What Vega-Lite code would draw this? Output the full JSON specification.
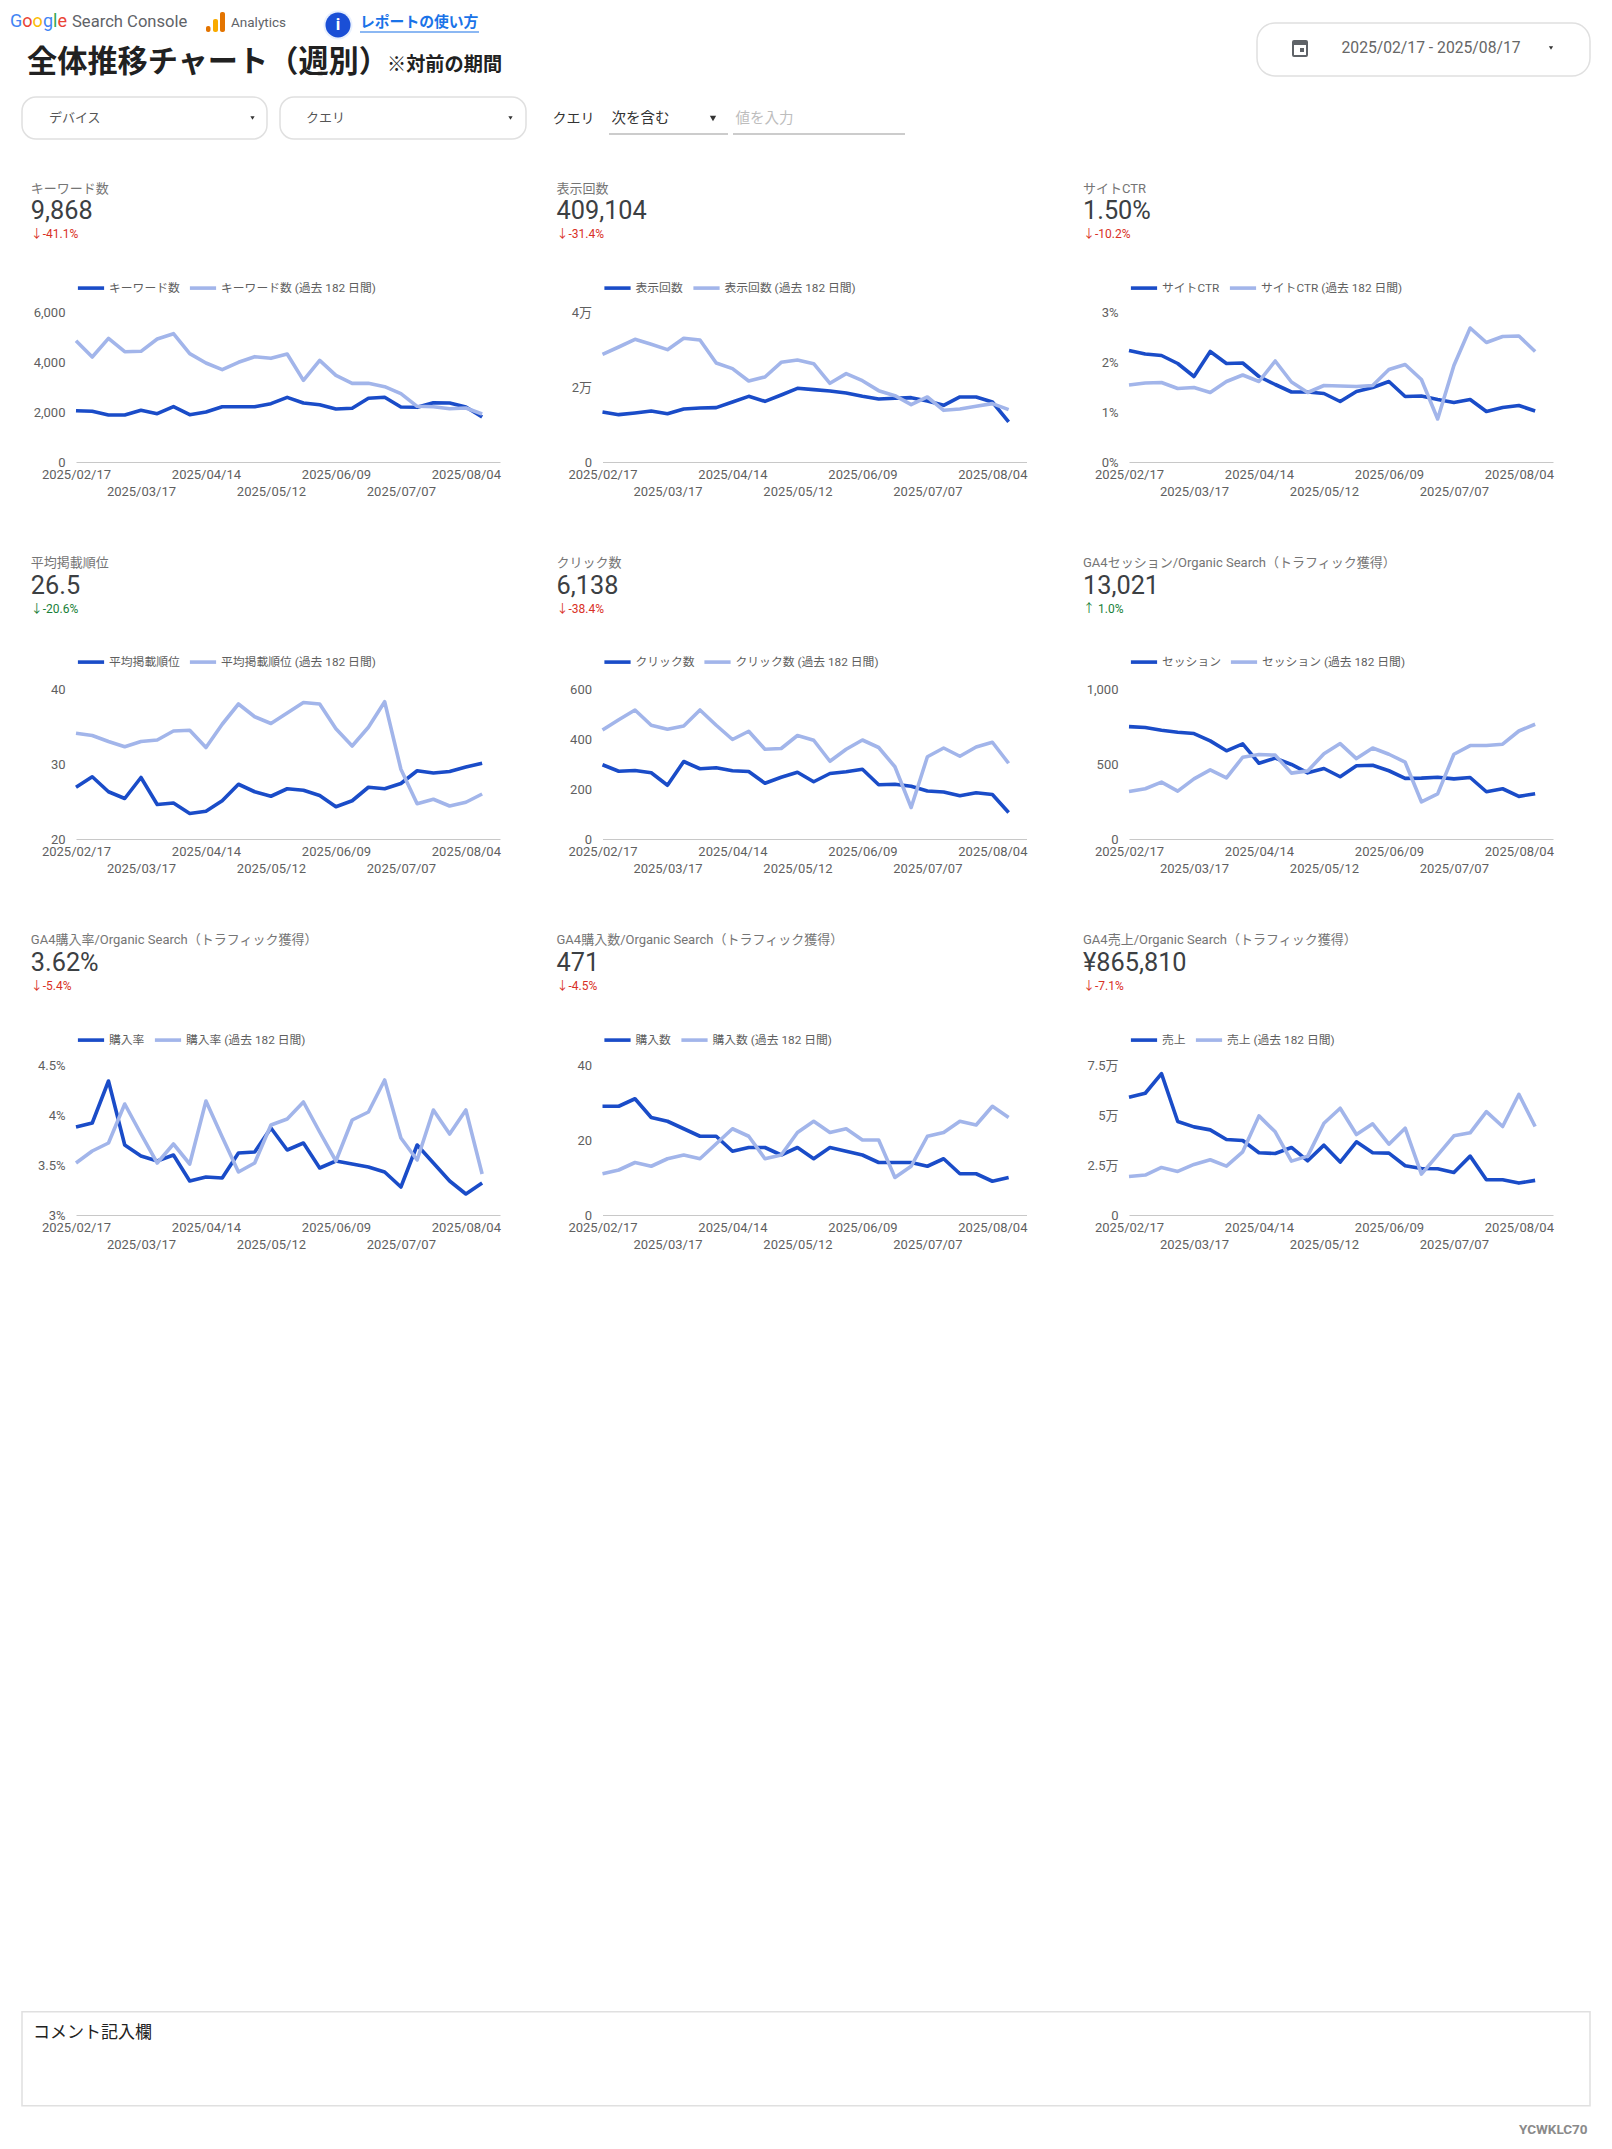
{
"$schema":"https://vega.github.io/schema/vega-lite/v6.json",
"background":"white",
"padding":{"left":10,"top":0,"right":0,"bottom":0},
"columns":3,
"align":"none",
"bounds":"flush",
"spacing":{"row":0,"column":102.5},
"resolve":{"scale":{"color":"independent","size":"independent"}},
"config":{
"view":{"stroke":null},
"font":"Roboto, 'Noto Sans CJK JP'",
"axis":{"labelFont":"Roboto, 'Noto Sans CJK JP'","labelFontSize":13,"labelColor":"#5f5f5f","ticks":false,"grid":false},
"axisX":{"domainColor":"#c8c8c8","domainWidth":1,"labelPadding":6,"labelAngle":0,"labelOverlap":false,"labelBound":false,"labelFlush":false,"labelLineHeight":17.3},
"axisY":{"domain":false,"labelPadding":11},
"legend":{"orient":"top","direction":"horizontal","symbolType":"stroke","symbolStrokeWidth":4,"symbolSize":687,"labelFont":"Roboto, 'Noto Sans CJK JP'","labelFontSize":11.8,"labelColor":"#5f5f5f","labelOffset":3,"columnPadding":8,"padding":0},
"line":{"strokeWidth":3.6,"strokeJoin":"round"},
"text":{"align":"left","baseline":"middle"}
},
"datasets":{"weekly":[
{"week":"2025/02/17","kw":2053,"kw_prev":4853,"imp":13335,"imp_prev":28715,"ctr":2.23,"ctr_prev":1.54,"pos":26.9,"pos_prev":34.1,"clk":297,"clk_prev":436,"ses":749,"ses_prev":317,"cvr":3.88,"cvr_prev":3.52,"buy":29,"buy_prev":11,"rev":58870,"rev_prev":19290},
{"week":"2025/02/24","kw":2027,"kw_prev":4200,"imp":12624,"imp_prev":30670,"ctr":2.16,"ctr_prev":1.58,"pos":28.3,"pos_prev":33.8,"clk":271,"clk_prev":477,"ses":743,"ses_prev":335,"cvr":3.92,"cvr_prev":3.64,"buy":29,"buy_prev":12,"rev":60870,"rev_prev":19960},
{"week":"2025/03/03","kw":1880,"kw_prev":4947,"imp":13068,"imp_prev":32715,"ctr":2.13,"ctr_prev":1.59,"pos":26.3,"pos_prev":33.0,"clk":274,"clk_prev":516,"ses":725,"ses_prev":379,"cvr":4.34,"cvr_prev":3.72,"buy":31,"buy_prev":14,"rev":70680,"rev_prev":23780},
{"week":"2025/03/10","kw":1880,"kw_prev":4413,"imp":13600,"imp_prev":31380,"ctr":1.97,"ctr_prev":1.47,"pos":25.4,"pos_prev":32.3,"clk":265,"clk_prev":455,"ses":712,"ses_prev":319,"cvr":3.70,"cvr_prev":4.11,"buy":26,"buy_prev":13,"rev":46730,"rev_prev":21790},
{"week":"2025/03/17","kw":2067,"kw_prev":4427,"imp":12890,"imp_prev":29960,"ctr":1.71,"ctr_prev":1.49,"pos":28.2,"pos_prev":33.0,"clk":215,"clk_prev":439,"ses":703,"ses_prev":401,"cvr":3.59,"cvr_prev":3.81,"buy":25,"buy_prev":15,"rev":44070,"rev_prev":25280},
{"week":"2025/03/24","kw":1933,"kw_prev":4920,"imp":14135,"imp_prev":32980,"ctr":2.21,"ctr_prev":1.39,"pos":24.6,"pos_prev":33.2,"clk":310,"clk_prev":452,"ses":654,"ses_prev":461,"cvr":3.54,"cvr_prev":3.52,"buy":23,"buy_prev":16,"rev":42570,"rev_prev":27610},
{"week":"2025/03/31","kw":2213,"kw_prev":5133,"imp":14400,"imp_prev":32540,"ctr":1.97,"ctr_prev":1.61,"pos":24.8,"pos_prev":34.4,"clk":281,"clk_prev":516,"ses":588,"ses_prev":408,"cvr":3.60,"cvr_prev":3.71,"buy":21,"buy_prev":15,"rev":37750,"rev_prev":24450},
{"week":"2025/04/07","kw":1893,"kw_prev":4333,"imp":14490,"imp_prev":26400,"ctr":1.98,"ctr_prev":1.74,"pos":23.4,"pos_prev":34.5,"clk":285,"clk_prev":455,"ses":634,"ses_prev":545,"cvr":3.34,"cvr_prev":3.51,"buy":21,"buy_prev":19,"rev":37250,"rev_prev":31600},
{"week":"2025/04/14","kw":2000,"kw_prev":3960,"imp":16000,"imp_prev":24890,"ctr":1.71,"ctr_prev":1.61,"pos":23.7,"pos_prev":32.2,"clk":273,"clk_prev":398,"ses":505,"ses_prev":563,"cvr":3.38,"cvr_prev":4.14,"buy":17,"buy_prev":23,"rev":31100,"rev_prev":49560},
{"week":"2025/04/21","kw":2213,"kw_prev":3693,"imp":17510,"imp_prev":21600,"ctr":1.55,"ctr_prev":2.02,"pos":25.1,"pos_prev":35.3,"clk":270,"clk_prev":431,"ses":539,"ses_prev":559,"cvr":3.37,"cvr_prev":3.78,"buy":18,"buy_prev":21,"rev":30770,"rev_prev":41580},
{"week":"2025/04/28","kw":2213,"kw_prev":3987,"imp":16180,"imp_prev":22670,"ctr":1.40,"ctr_prev":1.60,"pos":27.3,"pos_prev":38.0,"clk":223,"clk_prev":359,"ses":497,"ses_prev":439,"cvr":3.62,"cvr_prev":3.43,"buy":18,"buy_prev":15,"rev":33760,"rev_prev":26940},
{"week":"2025/05/05","kw":2213,"kw_prev":4213,"imp":17870,"imp_prev":26580,"ctr":1.40,"ctr_prev":1.39,"pos":26.3,"pos_prev":36.3,"clk":247,"clk_prev":362,"ses":441,"ses_prev":454,"cvr":3.63,"cvr_prev":3.52,"buy":16,"buy_prev":16,"rev":27110,"rev_prev":29440},
{"week":"2025/05/12","kw":2333,"kw_prev":4147,"imp":19650,"imp_prev":27200,"ctr":1.37,"ctr_prev":1.53,"pos":25.7,"pos_prev":35.4,"clk":267,"clk_prev":414,"ses":470,"ses_prev":568,"cvr":3.87,"cvr_prev":3.90,"buy":18,"buy_prev":22,"rev":34920,"rev_prev":45900},
{"week":"2025/05/19","kw":2587,"kw_prev":4320,"imp":19290,"imp_prev":26225,"ctr":1.21,"ctr_prev":1.52,"pos":26.7,"pos_prev":36.8,"clk":229,"clk_prev":395,"ses":415,"ses_prev":636,"cvr":3.65,"cvr_prev":3.96,"buy":15,"buy_prev":25,"rev":26440,"rev_prev":53380},
{"week":"2025/05/26","kw":2360,"kw_prev":3267,"imp":18940,"imp_prev":20980,"ctr":1.41,"ctr_prev":1.51,"pos":26.5,"pos_prev":38.2,"clk":262,"clk_prev":311,"ses":488,"ses_prev":536,"cvr":3.72,"cvr_prev":4.13,"buy":18,"buy_prev":22,"rev":36590,"rev_prev":40250},
{"week":"2025/06/02","kw":2293,"kw_prev":4067,"imp":18400,"imp_prev":23560,"ctr":1.49,"ctr_prev":1.53,"pos":25.8,"pos_prev":38.0,"clk":269,"clk_prev":359,"ses":492,"ses_prev":607,"cvr":3.47,"cvr_prev":3.83,"buy":17,"buy_prev":23,"rev":31100,"rev_prev":45570},
{"week":"2025/06/09","kw":2120,"kw_prev":3467,"imp":17510,"imp_prev":21690,"ctr":1.61,"ctr_prev":1.85,"pos":24.3,"pos_prev":34.7,"clk":279,"clk_prev":396,"ses":455,"ses_prev":565,"cvr":3.54,"cvr_prev":3.54,"buy":16,"buy_prev":20,"rev":30930,"rev_prev":35420},
{"week":"2025/06/16","kw":2147,"kw_prev":3147,"imp":16800,"imp_prev":19025,"ctr":1.31,"ctr_prev":1.95,"pos":25.1,"pos_prev":32.4,"clk":217,"clk_prev":366,"ses":404,"ses_prev":512,"cvr":3.51,"cvr_prev":3.95,"buy":14,"buy_prev":20,"rev":24610,"rev_prev":43400},
{"week":"2025/06/23","kw":2547,"kw_prev":3147,"imp":16980,"imp_prev":17690,"ctr":1.32,"ctr_prev":1.65,"pos":26.9,"pos_prev":34.9,"clk":219,"clk_prev":289,"ses":406,"ses_prev":248,"cvr":3.48,"cvr_prev":4.03,"buy":14,"buy_prev":10,"rev":23280,"rev_prev":20450},
{"week":"2025/06/30","kw":2587,"kw_prev":3013,"imp":17160,"imp_prev":15290,"ctr":1.25,"ctr_prev":0.86,"pos":26.7,"pos_prev":38.3,"clk":211,"clk_prev":126,"ses":412,"ses_prev":301,"cvr":3.43,"cvr_prev":4.35,"buy":14,"buy_prev":13,"rev":23120,"rev_prev":29930},
{"week":"2025/07/07","kw":2200,"kw_prev":2733,"imp":16270,"imp_prev":17335,"ctr":1.19,"ctr_prev":1.93,"pos":27.4,"pos_prev":29.3,"clk":192,"clk_prev":329,"ses":401,"ses_prev":565,"cvr":3.28,"cvr_prev":3.77,"buy":13,"buy_prev":21,"rev":21290,"rev_prev":39580},
{"week":"2025/07/14","kw":2187,"kw_prev":2227,"imp":15110,"imp_prev":13780,"ctr":1.25,"ctr_prev":2.68,"pos":29.1,"pos_prev":24.7,"clk":188,"clk_prev":364,"ses":410,"ses_prev":623,"cvr":3.70,"cvr_prev":3.55,"buy":15,"buy_prev":22,"rev":29440,"rev_prev":41080},
{"week":"2025/07/21","kw":2373,"kw_prev":2213,"imp":17340,"imp_prev":14135,"ctr":1.01,"ctr_prev":2.39,"pos":28.8,"pos_prev":25.3,"clk":173,"clk_prev":331,"ses":315,"ses_prev":623,"cvr":3.52,"cvr_prev":4.05,"buy":11,"buy_prev":25,"rev":17630,"rev_prev":51720},
{"week":"2025/07/28","kw":2360,"kw_prev":2133,"imp":17340,"imp_prev":14850,"ctr":1.09,"ctr_prev":2.51,"pos":29.0,"pos_prev":24.4,"clk":185,"clk_prev":368,"ses":335,"ses_prev":632,"cvr":3.34,"cvr_prev":3.81,"buy":11,"buy_prev":24,"rev":17630,"rev_prev":44240},
{"week":"2025/08/04","kw":2200,"kw_prev":2160,"imp":16000,"imp_prev":15560,"ctr":1.13,"ctr_prev":2.52,"pos":29.6,"pos_prev":24.9,"clk":178,"clk_prev":387,"ses":284,"ses_prev":720,"cvr":3.21,"cvr_prev":4.05,"buy":9,"buy_prev":29,"rev":15960,"rev_prev":60370},
{"week":"2025/08/11","kw":1800,"kw_prev":1920,"imp":10670,"imp_prev":13960,"ctr":1.02,"ctr_prev":2.21,"pos":30.1,"pos_prev":26.0,"clk":106,"clk_prev":303,"ses":302,"ses_prev":765,"cvr":3.32,"cvr_prev":3.41,"buy":10,"buy_prev":26,"rev":17300,"rev_prev":44240}
]},
"concat":[
{"width":424,"height":170,"layer":[
{"data":{"values":[{"t":"G"}]},"mark":{"type":"text","font":"Roboto","fontSize":18,"color":"#4285f4"},"encoding":{"x":{"datum":10,"scale":{"domain":[76,500]},"axis":null},"y":{"datum":21.7,"scale":{"domain":[0,170],"reverse":true},"axis":null},"text":{"field":"t"}}},
{"data":{"values":[{"t":"o"}]},"mark":{"type":"text","font":"Roboto","fontSize":18,"color":"#ea4335"},"encoding":{"x":{"datum":22.3,"scale":{"domain":[76,500]},"axis":null},"y":{"datum":21.7,"scale":{"domain":[0,170],"reverse":true},"axis":null},"text":{"field":"t"}}},
{"data":{"values":[{"t":"o"}]},"mark":{"type":"text","font":"Roboto","fontSize":18,"color":"#fbbc05"},"encoding":{"x":{"datum":32.6,"scale":{"domain":[76,500]},"axis":null},"y":{"datum":21.7,"scale":{"domain":[0,170],"reverse":true},"axis":null},"text":{"field":"t"}}},
{"data":{"values":[{"t":"g"}]},"mark":{"type":"text","font":"Roboto","fontSize":18,"color":"#4285f4"},"encoding":{"x":{"datum":42.9,"scale":{"domain":[76,500]},"axis":null},"y":{"datum":21.7,"scale":{"domain":[0,170],"reverse":true},"axis":null},"text":{"field":"t"}}},
{"data":{"values":[{"t":"l"}]},"mark":{"type":"text","font":"Roboto","fontSize":18,"color":"#34a853"},"encoding":{"x":{"datum":53.1,"scale":{"domain":[76,500]},"axis":null},"y":{"datum":21.7,"scale":{"domain":[0,170],"reverse":true},"axis":null},"text":{"field":"t"}}},
{"data":{"values":[{"t":"e"}]},"mark":{"type":"text","font":"Roboto","fontSize":18,"color":"#ea4335"},"encoding":{"x":{"datum":57.5,"scale":{"domain":[76,500]},"axis":null},"y":{"datum":21.7,"scale":{"domain":[0,170],"reverse":true},"axis":null},"text":{"field":"t"}}},
{"data":{"values":[{"t":"Search Console"}]},"mark":{"type":"text","font":"Roboto","fontSize":16.6,"color":"#5f6368"},"encoding":{"x":{"datum":72,"scale":{"domain":[76,500]},"axis":null},"y":{"datum":21.7,"scale":{"domain":[0,170],"reverse":true},"axis":null},"text":{"field":"t"}}},
{"data":{"values":[{"part":"low"}]},"mark":{"type":"rect","fill":"#e37400","cornerRadius":2},"encoding":{"x":{"datum":206,"scale":{"domain":[76,500]},"axis":null},"x2":{"datum":210.5},"y":{"datum":26,"scale":{"domain":[0,170],"reverse":true},"axis":null},"y2":{"datum":32}}},
{"data":{"values":[{"part":"mid"}]},"mark":{"type":"rect","fill":"#f9ab00","cornerRadius":2},"encoding":{"x":{"datum":213,"scale":{"domain":[76,500]},"axis":null},"x2":{"datum":218},"y":{"datum":19,"scale":{"domain":[0,170],"reverse":true},"axis":null},"y2":{"datum":32}}},
{"data":{"values":[{"part":"high"}]},"mark":{"type":"rect","fill":"#e37400","cornerRadius":2},"encoding":{"x":{"datum":220,"scale":{"domain":[76,500]},"axis":null},"x2":{"datum":225},"y":{"datum":12,"scale":{"domain":[0,170],"reverse":true},"axis":null},"y2":{"datum":32}}},
{"data":{"values":[{"t":"Analytics"}]},"mark":{"type":"text","font":"Roboto","fontSize":13.5,"color":"#5f6368"},"encoding":{"x":{"datum":231,"scale":{"domain":[76,500]},"axis":null},"y":{"datum":22.7,"scale":{"domain":[0,170],"reverse":true},"axis":null},"text":{"field":"t"}}},
{"data":{"values":[{"part":"ring"}]},"mark":{"type":"point","shape":"circle","filled":true,"fill":"#e8f0fe","size":841,"opacity":1},"encoding":{"x":{"datum":338,"scale":{"domain":[76,500]},"axis":null},"y":{"datum":25,"scale":{"domain":[0,170],"reverse":true},"axis":null}}},
{"data":{"values":[{"part":"disc"}]},"mark":{"type":"point","shape":"circle","filled":true,"fill":"#1a4fd6","size":625,"opacity":1},"encoding":{"x":{"datum":338,"scale":{"domain":[76,500]},"axis":null},"y":{"datum":25,"scale":{"domain":[0,170],"reverse":true},"axis":null}}},
{"data":{"values":[{"t":"i"}]},"mark":{"type":"text","align":"center","font":"Roboto","fontSize":17,"fontWeight":"bold","color":"white"},"encoding":{"x":{"datum":338,"scale":{"domain":[76,500]},"axis":null},"y":{"datum":25,"scale":{"domain":[0,170],"reverse":true},"axis":null},"text":{"field":"t"}}},
{"data":{"values":[{"t":"レポートの使い方"}]},"mark":{"type":"text","font":"Noto Sans CJK JP","fontSize":14.8,"fontWeight":"bold","color":"#1a73e8"},"encoding":{"x":{"datum":360,"scale":{"domain":[76,500]},"axis":null},"y":{"datum":23,"scale":{"domain":[0,170],"reverse":true},"axis":null},"text":{"field":"t"}}},
{"data":{"values":[{"part":"underline"}]},"mark":{"type":"rule","stroke":"#1a73e8","strokeWidth":1.2},"encoding":{"x":{"datum":360,"scale":{"domain":[76,500]},"axis":null},"x2":{"datum":479},"y":{"datum":32,"scale":{"domain":[0,170],"reverse":true},"axis":null}}},
{"data":{"values":[{"t":"全体推移チャート（週別）"}]},"mark":{"type":"text","font":"Noto Sans CJK JP","fontSize":30.2,"fontWeight":"bold","color":"#212121"},"encoding":{"x":{"datum":27,"scale":{"domain":[76,500]},"axis":null},"y":{"datum":63,"scale":{"domain":[0,170],"reverse":true},"axis":null},"text":{"field":"t"}}},
{"data":{"values":[{"t":"※対前の期間"}]},"mark":{"type":"text","font":"Noto Sans CJK JP","fontSize":19.2,"fontWeight":"bold","color":"#212121"},"encoding":{"x":{"datum":387,"scale":{"domain":[76,500]},"axis":null},"y":{"datum":65,"scale":{"domain":[0,170],"reverse":true},"axis":null},"text":{"field":"t"}}},
{"data":{"values":[{"part":"device"}]},"mark":{"type":"rect","fill":"white","stroke":"#e0e0e0","strokeWidth":1.5,"cornerRadius":14},"encoding":{"x":{"datum":22,"scale":{"domain":[76,500]},"axis":null},"x2":{"datum":267},"y":{"datum":97,"scale":{"domain":[0,170],"reverse":true},"axis":null},"y2":{"datum":139}}},
{"data":{"values":[{"t":"デバイス"}]},"mark":{"type":"text","font":"Noto Sans CJK JP","fontSize":13,"color":"#555555"},"encoding":{"x":{"datum":49,"scale":{"domain":[76,500]},"axis":null},"y":{"datum":118,"scale":{"domain":[0,170],"reverse":true},"axis":null},"text":{"field":"t"}}},
{"data":{"values":[{"part":"caret"}]},"mark":{"type":"point","shape":"triangle-down","filled":true,"fill":"#333333","size":18,"opacity":1},"encoding":{"x":{"datum":252.5,"scale":{"domain":[76,500]},"axis":null},"y":{"datum":118,"scale":{"domain":[0,170],"reverse":true},"axis":null}}},
{"data":{"values":[{"part":"query"}]},"mark":{"type":"rect","fill":"white","stroke":"#e0e0e0","strokeWidth":1.5,"cornerRadius":14},"encoding":{"x":{"datum":280,"scale":{"domain":[76,500]},"axis":null},"x2":{"datum":526},"y":{"datum":97,"scale":{"domain":[0,170],"reverse":true},"axis":null},"y2":{"datum":139}}},
{"data":{"values":[{"t":"クエリ"}]},"mark":{"type":"text","font":"Noto Sans CJK JP","fontSize":13,"color":"#555555"},"encoding":{"x":{"datum":306,"scale":{"domain":[76,500]},"axis":null},"y":{"datum":118,"scale":{"domain":[0,170],"reverse":true},"axis":null},"text":{"field":"t"}}},
{"data":{"values":[{"part":"caret"}]},"mark":{"type":"point","shape":"triangle-down","filled":true,"fill":"#333333","size":18,"opacity":1},"encoding":{"x":{"datum":510.5,"scale":{"domain":[76,500]},"axis":null},"y":{"datum":118,"scale":{"domain":[0,170],"reverse":true},"axis":null}}}
]},
{"width":424,"height":170,"layer":[
{"data":{"values":[{"t":"クエリ"}]},"mark":{"type":"text","font":"Noto Sans CJK JP","fontSize":14,"color":"#333333"},"encoding":{"x":{"datum":552.5,"scale":{"domain":[602.5,1026.5]},"axis":null},"y":{"datum":118.5,"scale":{"domain":[0,170],"reverse":true},"axis":null},"text":{"field":"t"}}},
{"data":{"values":[{"t":"次を含む"}]},"mark":{"type":"text","font":"Noto Sans CJK JP","fontSize":14.5,"color":"#333333"},"encoding":{"x":{"datum":611.5,"scale":{"domain":[602.5,1026.5]},"axis":null},"y":{"datum":118.5,"scale":{"domain":[0,170],"reverse":true},"axis":null},"text":{"field":"t"}}},
{"data":{"values":[{"part":"caret"}]},"mark":{"type":"point","shape":"triangle-down","filled":true,"fill":"#333333","size":40,"opacity":1},"encoding":{"x":{"datum":713,"scale":{"domain":[602.5,1026.5]},"axis":null},"y":{"datum":118.5,"scale":{"domain":[0,170],"reverse":true},"axis":null}}},
{"data":{"values":[{"part":"operator line"}]},"mark":{"type":"rule","stroke":"#cccccc","strokeWidth":2},"encoding":{"x":{"datum":609,"scale":{"domain":[602.5,1026.5]},"axis":null},"x2":{"datum":728},"y":{"datum":134,"scale":{"domain":[0,170],"reverse":true},"axis":null}}},
{"data":{"values":[{"t":"値を入力"}]},"mark":{"type":"text","font":"Noto Sans CJK JP","fontSize":14.5,"color":"#bdbdbd"},"encoding":{"x":{"datum":735.5,"scale":{"domain":[602.5,1026.5]},"axis":null},"y":{"datum":118.5,"scale":{"domain":[0,170],"reverse":true},"axis":null},"text":{"field":"t"}}},
{"data":{"values":[{"part":"value line"}]},"mark":{"type":"rule","stroke":"#cccccc","strokeWidth":2},"encoding":{"x":{"datum":733,"scale":{"domain":[602.5,1026.5]},"axis":null},"x2":{"datum":905},"y":{"datum":134,"scale":{"domain":[0,170],"reverse":true},"axis":null}}}
]},
{"width":424,"height":170,"layer":[
{"data":{"values":[{"part":"date box"}]},"mark":{"type":"rect","fill":"white","stroke":"#e0e0e0","strokeWidth":1.5,"cornerRadius":18},"encoding":{"x":{"datum":1257,"scale":{"domain":[1129,1553]},"axis":null},"x2":{"datum":1590},"y":{"datum":23,"scale":{"domain":[0,170],"reverse":true},"axis":null},"y2":{"datum":76}}},
{"data":{"values":[{"part":"calendar"}]},"mark":{"type":"rect","fill":"white","stroke":"#5f6368","strokeWidth":2,"cornerRadius":1},"encoding":{"x":{"datum":1293,"scale":{"domain":[1129,1553]},"axis":null},"x2":{"datum":1307},"y":{"datum":41,"scale":{"domain":[0,170],"reverse":true},"axis":null},"y2":{"datum":56}}},
{"data":{"values":[{"part":"calendar band"}]},"mark":{"type":"rect","fill":"#5f6368"},"encoding":{"x":{"datum":1293,"scale":{"domain":[1129,1553]},"axis":null},"x2":{"datum":1307},"y":{"datum":41,"scale":{"domain":[0,170],"reverse":true},"axis":null},"y2":{"datum":45}}},
{"data":{"values":[{"part":"calendar day"}]},"mark":{"type":"rect","fill":"#5f6368"},"encoding":{"x":{"datum":1300,"scale":{"domain":[1129,1553]},"axis":null},"x2":{"datum":1304},"y":{"datum":48,"scale":{"domain":[0,170],"reverse":true},"axis":null},"y2":{"datum":52}}},
{"data":{"values":[{"t":"2025/02/17 - 2025/08/17"}]},"mark":{"type":"text","font":"Roboto","fontSize":15.7,"color":"#666666"},"encoding":{"x":{"datum":1341.5,"scale":{"domain":[1129,1553]},"axis":null},"y":{"datum":48,"scale":{"domain":[0,170],"reverse":true},"axis":null},"text":{"field":"t"}}},
{"data":{"values":[{"part":"caret"}]},"mark":{"type":"point","shape":"triangle-down","filled":true,"fill":"#333333","size":18,"opacity":1},"encoding":{"x":{"datum":1551,"scale":{"domain":[1129,1553]},"axis":null},"y":{"datum":48,"scale":{"domain":[0,170],"reverse":true},"axis":null}}}
]},
{"width":424,"height":141.5,"data":{"values":[{"line":"name","tone":"name","text":"キーワード数"},{"line":"value","tone":"value","text":"9,868"},{"line":"delta","tone":"bad","text":"↓-41.1%"}]},"mark":{"type":"text"},"encoding":{"x":{"datum":30.8,"scale":{"domain":[76,500]},"axis":null},"y":{"field":"line","type":"nominal","scale":{"type":"point","domain":["name","value","delta"],"range":[19,63.5],"padding":0},"axis":null},"size":{"field":"line","type":"ordinal","scale":{"type":"ordinal","domain":["name","value","delta"],"range":[13,25.3,12]},"legend":null},"color":{"field":"tone","type":"nominal","scale":{"domain":["name","value","bad","good"],"range":["#757575","#3c4043","#d93025","#188038"]},"legend":null},"text":{"field":"text"}}},
{"width":424,"height":141.5,"data":{"values":[{"line":"name","tone":"name","text":"表示回数"},{"line":"value","tone":"value","text":"409,104"},{"line":"delta","tone":"bad","text":"↓-31.4%"}]},"mark":{"type":"text"},"encoding":{"x":{"datum":556.5,"scale":{"domain":[602.5,1026.5]},"axis":null},"y":{"field":"line","type":"nominal","scale":{"type":"point","domain":["name","value","delta"],"range":[19,63.5],"padding":0},"axis":null},"size":{"field":"line","type":"ordinal","scale":{"type":"ordinal","domain":["name","value","delta"],"range":[13,25.3,12]},"legend":null},"color":{"field":"tone","type":"nominal","scale":{"domain":["name","value","bad","good"],"range":["#757575","#3c4043","#d93025","#188038"]},"legend":null},"text":{"field":"text"}}},
{"width":424,"height":141.5,"data":{"values":[{"line":"name","tone":"name","text":"サイトCTR"},{"line":"value","tone":"value","text":"1.50%"},{"line":"delta","tone":"bad","text":"↓-10.2%"}]},"mark":{"type":"text"},"encoding":{"x":{"datum":1083,"scale":{"domain":[1129,1553]},"axis":null},"y":{"field":"line","type":"nominal","scale":{"type":"point","domain":["name","value","delta"],"range":[19,63.5],"padding":0},"axis":null},"size":{"field":"line","type":"ordinal","scale":{"type":"ordinal","domain":["name","value","delta"],"range":[13,25.3,12]},"legend":null},"color":{"field":"tone","type":"nominal","scale":{"domain":["name","value","bad","good"],"range":["#757575","#3c4043","#d93025","#188038"]},"legend":null},"text":{"field":"text"}}},
{"width":424,"height":150,"data":{"name":"weekly"},"transform":[{"fold":["kw","kw_prev"],"as":["series","value"]}],"mark":"line","encoding":{"x":{"field":"week","type":"ordinal","scale":{"type":"point","padding":0.55,"align":0},"axis":{"title":null,"values":["2025/02/17","2025/03/17","2025/04/14","2025/05/12","2025/06/09","2025/07/07","2025/08/04"],"labelExpr":"indexof(['2025/03/17','2025/05/12','2025/07/07'],datum.label)>=0?['',datum.label]:datum.label"}},"y":{"field":"value","type":"quantitative","scale":{"domain":[0,6000]},"axis":{"title":null,"values":[0,2000,4000,6000],"format":",d"}},"color":{"field":"series","type":"nominal","title":null,"scale":{"domain":["kw","kw_prev"],"range":["#1a4cc8","#a2b5ea"]},"legend":{"offset":17,"labelExpr":"datum.label=='kw'?'キーワード数':'キーワード数 (過去 182 日間)'"}}}},
{"width":424,"height":150,"data":{"name":"weekly"},"transform":[{"fold":["imp","imp_prev"],"as":["series","value"]}],"mark":"line","encoding":{"x":{"field":"week","type":"ordinal","scale":{"type":"point","padding":0.55,"align":0},"axis":{"title":null,"values":["2025/02/17","2025/03/17","2025/04/14","2025/05/12","2025/06/09","2025/07/07","2025/08/04"],"labelExpr":"indexof(['2025/03/17','2025/05/12','2025/07/07'],datum.label)>=0?['',datum.label]:datum.label"}},"y":{"field":"value","type":"quantitative","scale":{"domain":[0,40000]},"axis":{"title":null,"values":[0,20000,40000],"labelExpr":"datum.value==0?'0':(datum.value/10000)+'万'"}},"color":{"field":"series","type":"nominal","title":null,"scale":{"domain":["imp","imp_prev"],"range":["#1a4cc8","#a2b5ea"]},"legend":{"offset":17,"labelExpr":"datum.label=='imp'?'表示回数':'表示回数 (過去 182 日間)'"}}}},
{"width":424,"height":150,"data":{"name":"weekly"},"transform":[{"fold":["ctr","ctr_prev"],"as":["series","value"]}],"mark":"line","encoding":{"x":{"field":"week","type":"ordinal","scale":{"type":"point","padding":0.55,"align":0},"axis":{"title":null,"values":["2025/02/17","2025/03/17","2025/04/14","2025/05/12","2025/06/09","2025/07/07","2025/08/04"],"labelExpr":"indexof(['2025/03/17','2025/05/12','2025/07/07'],datum.label)>=0?['',datum.label]:datum.label"}},"y":{"field":"value","type":"quantitative","scale":{"domain":[0,3]},"axis":{"title":null,"values":[0,1,2,3],"labelExpr":"datum.value+'%'"}},"color":{"field":"series","type":"nominal","title":null,"scale":{"domain":["ctr","ctr_prev"],"range":["#1a4cc8","#a2b5ea"]},"legend":{"offset":17,"labelExpr":"datum.label=='ctr'?'サイトCTR':'サイトCTR (過去 182 日間)'"}}}},
{"width":424,"height":226.2,"data":{"values":[{"line":"name","tone":"name","text":"平均掲載順位"},{"line":"value","tone":"value","text":"26.5"},{"line":"delta","tone":"good","text":"↓-20.6%"}]},"mark":{"type":"text"},"encoding":{"x":{"datum":30.8,"scale":{"domain":[76,500]},"axis":null},"y":{"field":"line","type":"nominal","scale":{"type":"point","domain":["name","value","delta"],"range":[101.3,146.8],"padding":0},"axis":null},"size":{"field":"line","type":"ordinal","scale":{"type":"ordinal","domain":["name","value","delta"],"range":[13,25.3,12]},"legend":null},"color":{"field":"tone","type":"nominal","scale":{"domain":["name","value","bad","good"],"range":["#757575","#3c4043","#d93025","#188038"]},"legend":null},"text":{"field":"text"}}},
{"width":424,"height":226.2,"data":{"values":[{"line":"name","tone":"name","text":"クリック数"},{"line":"value","tone":"value","text":"6,138"},{"line":"delta","tone":"bad","text":"↓-38.4%"}]},"mark":{"type":"text"},"encoding":{"x":{"datum":556.5,"scale":{"domain":[602.5,1026.5]},"axis":null},"y":{"field":"line","type":"nominal","scale":{"type":"point","domain":["name","value","delta"],"range":[101.3,146.8],"padding":0},"axis":null},"size":{"field":"line","type":"ordinal","scale":{"type":"ordinal","domain":["name","value","delta"],"range":[13,25.3,12]},"legend":null},"color":{"field":"tone","type":"nominal","scale":{"domain":["name","value","bad","good"],"range":["#757575","#3c4043","#d93025","#188038"]},"legend":null},"text":{"field":"text"}}},
{"width":424,"height":226.2,"data":{"values":[{"line":"name","tone":"name","text":"GA4セッション/Organic Search（トラフィック獲得）"},{"line":"value","tone":"value","text":"13,021"},{"line":"delta","tone":"good","text":"↑ 1.0%"}]},"mark":{"type":"text"},"encoding":{"x":{"datum":1083,"scale":{"domain":[1129,1553]},"axis":null},"y":{"field":"line","type":"nominal","scale":{"type":"point","domain":["name","value","delta"],"range":[101.3,146.8],"padding":0},"axis":null},"size":{"field":"line","type":"ordinal","scale":{"type":"ordinal","domain":["name","value","delta"],"range":[13,25.3,12]},"legend":null},"color":{"field":"tone","type":"nominal","scale":{"domain":["name","value","bad","good"],"range":["#757575","#3c4043","#d93025","#188038"]},"legend":null},"text":{"field":"text"}}},
{"width":424,"height":150,"data":{"name":"weekly"},"transform":[{"fold":["pos","pos_prev"],"as":["series","value"]}],"mark":"line","encoding":{"x":{"field":"week","type":"ordinal","scale":{"type":"point","padding":0.55,"align":0},"axis":{"title":null,"values":["2025/02/17","2025/03/17","2025/04/14","2025/05/12","2025/06/09","2025/07/07","2025/08/04"],"labelExpr":"indexof(['2025/03/17','2025/05/12','2025/07/07'],datum.label)>=0?['',datum.label]:datum.label"}},"y":{"field":"value","type":"quantitative","scale":{"domain":[20,40],"zero":false},"axis":{"title":null,"values":[20,30,40]}},"color":{"field":"series","type":"nominal","title":null,"scale":{"domain":["pos","pos_prev"],"range":["#1a4cc8","#a2b5ea"]},"legend":{"offset":20,"labelExpr":"datum.label=='pos'?'平均掲載順位':'平均掲載順位 (過去 182 日間)'"}}}},
{"width":424,"height":150,"data":{"name":"weekly"},"transform":[{"fold":["clk","clk_prev"],"as":["series","value"]}],"mark":"line","encoding":{"x":{"field":"week","type":"ordinal","scale":{"type":"point","padding":0.55,"align":0},"axis":{"title":null,"values":["2025/02/17","2025/03/17","2025/04/14","2025/05/12","2025/06/09","2025/07/07","2025/08/04"],"labelExpr":"indexof(['2025/03/17','2025/05/12','2025/07/07'],datum.label)>=0?['',datum.label]:datum.label"}},"y":{"field":"value","type":"quantitative","scale":{"domain":[0,600]},"axis":{"title":null,"values":[0,200,400,600]}},"color":{"field":"series","type":"nominal","title":null,"scale":{"domain":["clk","clk_prev"],"range":["#1a4cc8","#a2b5ea"]},"legend":{"offset":20,"labelExpr":"datum.label=='clk'?'クリック数':'クリック数 (過去 182 日間)'"}}}},
{"width":424,"height":150,"data":{"name":"weekly"},"transform":[{"fold":["ses","ses_prev"],"as":["series","value"]}],"mark":"line","encoding":{"x":{"field":"week","type":"ordinal","scale":{"type":"point","padding":0.55,"align":0},"axis":{"title":null,"values":["2025/02/17","2025/03/17","2025/04/14","2025/05/12","2025/06/09","2025/07/07","2025/08/04"],"labelExpr":"indexof(['2025/03/17','2025/05/12','2025/07/07'],datum.label)>=0?['',datum.label]:datum.label"}},"y":{"field":"value","type":"quantitative","scale":{"domain":[0,1000]},"axis":{"title":null,"values":[0,500,1000],"format":",d"}},"color":{"field":"series","type":"nominal","title":null,"scale":{"domain":["ses","ses_prev"],"range":["#1a4cc8","#a2b5ea"]},"legend":{"offset":20,"labelExpr":"datum.label=='ses'?'セッション':'セッション (過去 182 日間)'"}}}},
{"width":424,"height":225.5,"data":{"values":[{"line":"name","tone":"name","text":"GA4購入率/Organic Search（トラフィック獲得）"},{"line":"value","tone":"value","text":"3.62%"},{"line":"delta","tone":"bad","text":"↓-5.4%"}]},"mark":{"type":"text"},"encoding":{"x":{"datum":30.8,"scale":{"domain":[76,500]},"axis":null},"y":{"field":"line","type":"nominal","scale":{"type":"point","domain":["name","value","delta"],"range":[100.8,146.8],"padding":0},"axis":null},"size":{"field":"line","type":"ordinal","scale":{"type":"ordinal","domain":["name","value","delta"],"range":[13,25.3,12]},"legend":null},"color":{"field":"tone","type":"nominal","scale":{"domain":["name","value","bad","good"],"range":["#757575","#3c4043","#d93025","#188038"]},"legend":null},"text":{"field":"text"}}},
{"width":424,"height":225.5,"data":{"values":[{"line":"name","tone":"name","text":"GA4購入数/Organic Search（トラフィック獲得）"},{"line":"value","tone":"value","text":"471"},{"line":"delta","tone":"bad","text":"↓-4.5%"}]},"mark":{"type":"text"},"encoding":{"x":{"datum":556.5,"scale":{"domain":[602.5,1026.5]},"axis":null},"y":{"field":"line","type":"nominal","scale":{"type":"point","domain":["name","value","delta"],"range":[100.8,146.8],"padding":0},"axis":null},"size":{"field":"line","type":"ordinal","scale":{"type":"ordinal","domain":["name","value","delta"],"range":[13,25.3,12]},"legend":null},"color":{"field":"tone","type":"nominal","scale":{"domain":["name","value","bad","good"],"range":["#757575","#3c4043","#d93025","#188038"]},"legend":null},"text":{"field":"text"}}},
{"width":424,"height":225.5,"data":{"values":[{"line":"name","tone":"name","text":"GA4売上/Organic Search（トラフィック獲得）"},{"line":"value","tone":"value","text":"¥865,810"},{"line":"delta","tone":"bad","text":"↓-7.1%"}]},"mark":{"type":"text"},"encoding":{"x":{"datum":1083,"scale":{"domain":[1129,1553]},"axis":null},"y":{"field":"line","type":"nominal","scale":{"type":"point","domain":["name","value","delta"],"range":[100.8,146.8],"padding":0},"axis":null},"size":{"field":"line","type":"ordinal","scale":{"type":"ordinal","domain":["name","value","delta"],"range":[13,25.3,12]},"legend":null},"color":{"field":"tone","type":"nominal","scale":{"domain":["name","value","bad","good"],"range":["#757575","#3c4043","#d93025","#188038"]},"legend":null},"text":{"field":"text"}}},
{"width":424,"height":150,"data":{"name":"weekly"},"transform":[{"fold":["cvr","cvr_prev"],"as":["series","value"]}],"mark":"line","encoding":{"x":{"field":"week","type":"ordinal","scale":{"type":"point","padding":0.55,"align":0},"axis":{"title":null,"values":["2025/02/17","2025/03/17","2025/04/14","2025/05/12","2025/06/09","2025/07/07","2025/08/04"],"labelExpr":"indexof(['2025/03/17','2025/05/12','2025/07/07'],datum.label)>=0?['',datum.label]:datum.label"}},"y":{"field":"value","type":"quantitative","scale":{"domain":[3,4.5],"zero":false},"axis":{"title":null,"values":[3,3.5,4,4.5],"labelExpr":"datum.value+'%'"}},"color":{"field":"series","type":"nominal","title":null,"scale":{"domain":["cvr","cvr_prev"],"range":["#1a4cc8","#a2b5ea"]},"legend":{"offset":18,"labelExpr":"datum.label=='cvr'?'購入率':'購入率 (過去 182 日間)'"}}}},
{"width":424,"height":150,"data":{"name":"weekly"},"transform":[{"fold":["buy","buy_prev"],"as":["series","value"]}],"mark":"line","encoding":{"x":{"field":"week","type":"ordinal","scale":{"type":"point","padding":0.55,"align":0},"axis":{"title":null,"values":["2025/02/17","2025/03/17","2025/04/14","2025/05/12","2025/06/09","2025/07/07","2025/08/04"],"labelExpr":"indexof(['2025/03/17','2025/05/12','2025/07/07'],datum.label)>=0?['',datum.label]:datum.label"}},"y":{"field":"value","type":"quantitative","scale":{"domain":[0,40]},"axis":{"title":null,"values":[0,20,40]}},"color":{"field":"series","type":"nominal","title":null,"scale":{"domain":["buy","buy_prev"],"range":["#1a4cc8","#a2b5ea"]},"legend":{"offset":18,"labelExpr":"datum.label=='buy'?'購入数':'購入数 (過去 182 日間)'"}}}},
{"width":424,"height":150,"data":{"name":"weekly"},"transform":[{"fold":["rev","rev_prev"],"as":["series","value"]}],"mark":"line","encoding":{"x":{"field":"week","type":"ordinal","scale":{"type":"point","padding":0.55,"align":0},"axis":{"title":null,"values":["2025/02/17","2025/03/17","2025/04/14","2025/05/12","2025/06/09","2025/07/07","2025/08/04"],"labelExpr":"indexof(['2025/03/17','2025/05/12','2025/07/07'],datum.label)>=0?['',datum.label]:datum.label"}},"y":{"field":"value","type":"quantitative","scale":{"domain":[0,75000]},"axis":{"title":null,"values":[0,25000,50000,75000],"labelExpr":"datum.value==0?'0':(datum.value/10000)+'万'"}},"color":{"field":"series","type":"nominal","title":null,"scale":{"domain":["rev","rev_prev"],"range":["#1a4cc8","#a2b5ea"]},"legend":{"offset":18,"labelExpr":"datum.label=='rev'?'売上':'売上 (過去 182 日間)'"}}}},
{"width":424,"height":935,"layer":[
{"data":{"values":[{"part":"comment box"}]},"mark":{"type":"rect","fill":"white","stroke":"#e0e0e0","strokeWidth":1.5},"encoding":{"x":{"datum":22,"scale":{"domain":[76,500]},"axis":null},"x2":{"datum":1590},"y":{"datum":2010,"scale":{"domain":[1213.2,2148.2],"reverse":true},"axis":null},"y2":{"datum":2104}}},
{"data":{"values":[{"t":"コメント記入欄"}]},"mark":{"type":"text","font":"Noto Sans CJK JP","fontSize":17,"color":"#212121"},"encoding":{"x":{"datum":33,"scale":{"domain":[76,500]},"axis":null},"y":{"datum":2031,"scale":{"domain":[1213.2,2148.2],"reverse":true},"axis":null},"text":{"field":"t"}}},
{"data":{"values":[{"t":"YCWKLC70"}]},"mark":{"type":"text","font":"Roboto","fontSize":13.5,"fontWeight":"bold","color":"#8a8a8a"},"encoding":{"x":{"datum":1519,"scale":{"domain":[76,500]},"axis":null},"y":{"datum":2128,"scale":{"domain":[1213.2,2148.2],"reverse":true},"axis":null},"text":{"field":"t"}}}
]}
]
}
